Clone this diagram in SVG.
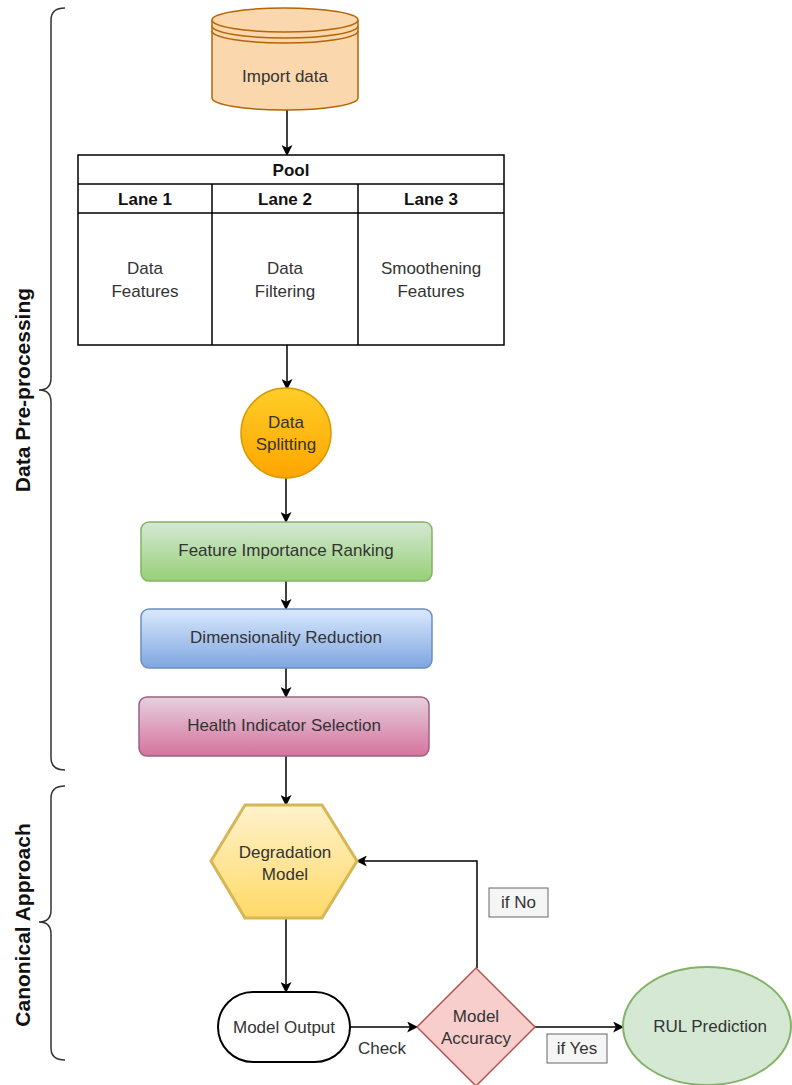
<svg xmlns="http://www.w3.org/2000/svg" width="792" height="1085" viewBox="0 0 792 1085">
<defs>
<linearGradient id="gOrange" x1="0" y1="0" x2="0" y2="1"><stop offset="0" stop-color="#ffcd28"/><stop offset="1" stop-color="#ffa500"/></linearGradient>
<linearGradient id="gGreen" x1="0" y1="0" x2="0" y2="1"><stop offset="0" stop-color="#d5e8d4"/><stop offset="1" stop-color="#97d077"/></linearGradient>
<linearGradient id="gBlue" x1="0" y1="0" x2="0" y2="1"><stop offset="0" stop-color="#dae8fc"/><stop offset="1" stop-color="#7ea6e0"/></linearGradient>
<linearGradient id="gPink" x1="0" y1="0" x2="0" y2="1"><stop offset="0" stop-color="#e6d0de"/><stop offset="1" stop-color="#d5739d"/></linearGradient>
<linearGradient id="gYellow" x1="0" y1="0" x2="0" y2="1"><stop offset="0" stop-color="#fff2cc"/><stop offset="1" stop-color="#ffd966"/></linearGradient>
<marker id="arr" viewBox="0 0 10 10" refX="9" refY="5" markerWidth="11" markerHeight="11" markerUnits="userSpaceOnUse" orient="auto"><path d="M0,0 L10,5 L0,10 L2.5,5 Z" fill="#000"/></marker>
<style>
text{font-family:"Liberation Sans",Arial,Helvetica,sans-serif;font-size:17px;fill:#333;text-anchor:middle;dominant-baseline:central}
.b{font-weight:bold;fill:#111}
.side{font-weight:bold;font-size:21px;fill:#111}
.conn{fill:none;stroke:#000;stroke-width:1.5}
.brace{fill:none;stroke:#333;stroke-width:1.5}
.lbl{fill:#f5f5f5;stroke:#666;stroke-width:1}
.pool{fill:#fff;stroke:#000;stroke-width:1.5}
</style>
</defs>
<rect width="792" height="1085" fill="#fff"/>

<g id="braces">
<path class="brace" d="M65 8 Q51 8 51 20 L51 378 Q51 390 39 390 Q51 390 51 402 L51 758 Q51 770 65 770"/>
<path class="brace" d="M65 786 Q51 786 51 798 L51 910 Q51 922 39 922 Q51 922 51 934 L51 1048 Q51 1060 65 1060"/>
<text class="side" transform="translate(22 390) rotate(-90)">Data Pre-processing</text>
<text class="side" transform="translate(22 925) rotate(-90)">Canonical Approach</text>
</g>

<g id="connectors">
<path class="conn" d="M287 110 L287 155" marker-end="url(#arr)"/>
<path class="conn" d="M287 345 L287 389" marker-end="url(#arr)"/>
<path class="conn" d="M286 478 L286 522" marker-end="url(#arr)"/>
<path class="conn" d="M286 581 L286 609" marker-end="url(#arr)"/>
<path class="conn" d="M286 668 L286 697" marker-end="url(#arr)"/>
<path class="conn" d="M286 756 L286 805" marker-end="url(#arr)"/>
<path class="conn" d="M286 918 L286 992" marker-end="url(#arr)"/>
<path class="conn" d="M350 1027 L417 1027" marker-end="url(#arr)"/>
<path class="conn" d="M535 1027 L623 1027" marker-end="url(#arr)"/>
<path class="conn" d="M477 968 L477 861 L357 861" marker-end="url(#arr)"/>
<text x="382" y="1048">Check</text>
<rect class="lbl" x="489" y="888" width="59" height="29"/>
<text x="518.5" y="902.5">if No</text>
<rect class="lbl" x="547" y="1034" width="60" height="29"/>
<text x="577" y="1048.5">if Yes</text>
</g>

<g id="import-data">
<path d="M212 20 L212 98 A73 12 0 0 0 358 98 L358 20" fill="#fad7ac" stroke="#b46504" stroke-width="1.5"/>
<ellipse cx="285" cy="20" rx="73" ry="12" fill="#fad7ac" stroke="#b46504" stroke-width="1.5"/>
<path d="M212 26 A73 12 0 0 0 358 26 M212 31 A73 12 0 0 0 358 31" fill="none" stroke="#b46504" stroke-width="1.5"/>
<text x="285" y="76">Import data</text>
</g>

<g id="pool">
<rect class="pool" x="78" y="155" width="426" height="190"/>
<path d="M78 184 L504 184 M78 213 L504 213 M212 184 L212 345 M358 184 L358 345" stroke="#000" stroke-width="1.5" fill="none"/>
<text class="b" x="291" y="170">Pool</text>
<text class="b" x="145" y="199">Lane 1</text>
<text class="b" x="285" y="199">Lane 2</text>
<text class="b" x="431" y="199">Lane 3</text>
<text x="145" y="268">Data</text>
<text x="145" y="291">Features</text>
<text x="285" y="268">Data</text>
<text x="285" y="291">Filtering</text>
<text x="431" y="268">Smoothening</text>
<text x="431" y="291">Features</text>
</g>

<g id="data-splitting">
<circle cx="286" cy="433" r="45" fill="url(#gOrange)" stroke="#d79b00" stroke-width="1.5"/>
<text x="286" y="422">Data</text>
<text x="286" y="444">Splitting</text>
</g>

<g id="feature-ranking">
<rect x="141" y="522" width="291" height="59" rx="8" fill="url(#gGreen)" stroke="#82b366" stroke-width="1.5"/>
<text x="286" y="550">Feature Importance Ranking</text>
</g>

<g id="dim-reduction">
<rect x="141" y="609" width="291" height="59" rx="8" fill="url(#gBlue)" stroke="#6c8ebf" stroke-width="1.5"/>
<text x="286" y="637">Dimensionality Reduction</text>
</g>

<g id="health-indicator">
<rect x="139" y="697" width="290" height="59" rx="8" fill="url(#gPink)" stroke="#996185" stroke-width="1.5"/>
<text x="284" y="725">Health Indicator Selection</text>
</g>

<g id="degradation-model">
<polygon points="245,805 322,805 357,861 322,918 245,918 211,861" fill="url(#gYellow)" stroke="#d6b656" stroke-width="3"/>
<text x="285" y="852">Degradation</text>
<text x="285" y="874">Model</text>
</g>

<g id="model-output">
<rect x="218" y="992" width="132" height="70" rx="35" fill="#fff" stroke="#000" stroke-width="2"/>
<text x="284" y="1027">Model Output</text>
</g>

<g id="model-accuracy">
<polygon points="476,968 535,1027 476,1086 417,1027" fill="#f8cecc" stroke="#b85450" stroke-width="1.5"/>
<text x="476" y="1016">Model</text>
<text x="476" y="1038">Accuracy</text>
</g>

<g id="rul-prediction">
<ellipse cx="707" cy="1026" rx="84" ry="59" fill="#d5e8d4" stroke="#82b366" stroke-width="2"/>
<text x="710" y="1026">RUL Prediction</text>
</g>
</svg>
